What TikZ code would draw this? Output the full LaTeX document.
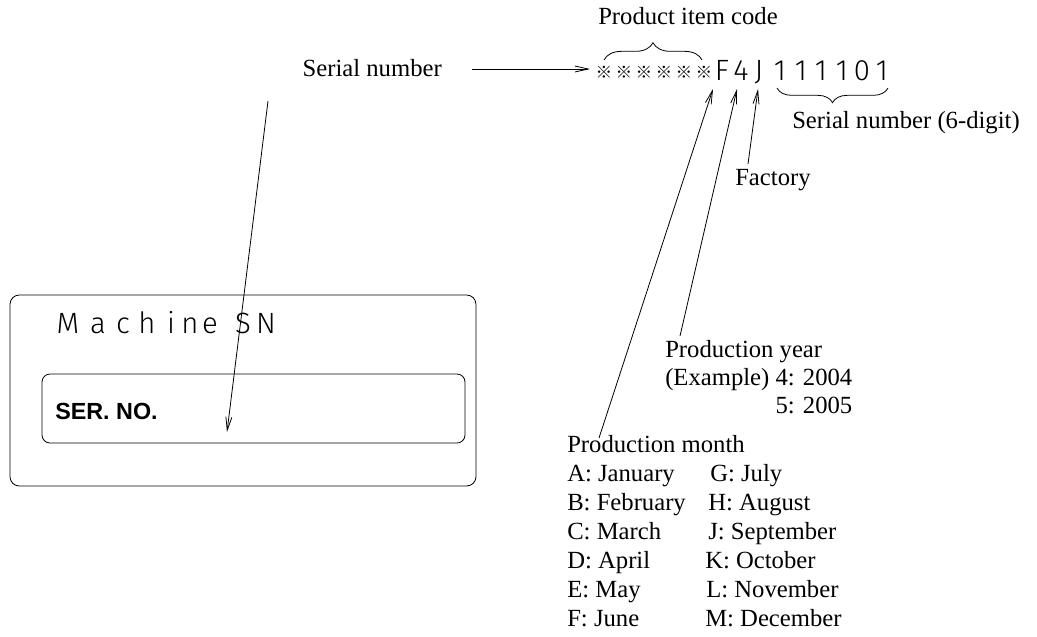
\documentclass[tikz,border=0pt]{standalone}
\usepackage{fontspec}
\setmainfont{Liberation Serif}
\setsansfont{Liberation Sans}
\newfontfamily\cadfont{Fira Sans Light}
\newfontfamily\markfont{Noto Sans CJK JP}
\usetikzlibrary{arrows.meta,decorations.pathreplacing,positioning}

\tikzset{
    lbl/.style={font=\fontsize{18.5}{16.5}\selectfont, inner sep=0pt, anchor=base west},
    codechar/.style={font=\cadfont\fontsize{22}{22}\selectfont, inner sep=0pt, anchor=base},
    codemark/.style={font=\markfont\fontsize{12.5}{12.5}\selectfont, inner sep=0pt, anchor=base},
    pointer/.style={-{Straight Barb[length=10pt,width=4.5pt]}, line width=0.6pt},
    cbrace/.style={decorate, line width=0.6pt, decoration={brace, amplitude=#1}},
    plate/.style={draw, line width=0.6pt, rounded corners=7pt, inner sep=0pt}
}

\begin{document}
\begin{tikzpicture}[x=0.75pt, y=-0.75pt]

    \useasboundingbox (0,0) rectangle (1037,636);

    % Name plate
    \node[plate, minimum width=466*0.75pt, minimum height=191*0.75pt] (outer) at (243,390.5) {};
    \node[plate, rounded corners=6pt, minimum width=423*0.75pt, minimum height=69*0.75pt] (inner) at (253.5,408.5) {};

    \foreach \ch/\x [count=\i] in {M/68, a/98, c/123, h/147, i/171, n/190, e/210, S/243, N/266}
        \node[codechar] (ms\i) at (\x,333) {\ch};

    \node[anchor=west, inner sep=0pt, font=\sffamily\bfseries\fontsize{17.5}{17.5}\selectfont] (serno) at (55,411) {SER. NO.};

    % Code string
    \foreach \x [count=\i] in {604,624,644,664,684,704}
        \node[codemark] (m\i) at (\x,78) {※};

    \foreach \ch/\x [count=\i] in {F/722, 4/741, J/759, 1/780, 1/801, 1/821, 1/842, 0/862, 1/882}
        \node[codechar] (c\i) at (\x,80) {\ch};

    % Braces
    \draw[cbrace=13pt] (604,60) -- (702,60);
    \draw[cbrace=11pt] (888,88) -- (777,88);

    % Labels
    \node[lbl] (item) at (598,24) {Product item code};
    \node[lbl, anchor=base east] (serial) at (442,76) {Serial number};
    \node[lbl] (digits) at (792,128) {Serial number (6-digit)};
    \node[lbl] (factory) at (735,185) {Factory};

    \node[lbl] (year) at (665,357) {Production year};
    \node[lbl] (yex) at (665,385) {(Example) 4: 2004};
    \node[lbl, anchor=base east] (yex2) at (yex.east |- 0,413) {5: 2005};

    \node[lbl] (month) at (567,452) {Production month};
    \foreach \txt/\y [count=\i] in {A: January/481, B: February/510, C: March/539,
                                     D: April/568, E: May/597, F: June/626}
        \node[lbl] (mA\i) at (567,\y) {\txt};
    \foreach \txt/\x/\y [count=\i] in {G: July/710/481, H: August/708/510, J: September/708/539,
                                        K: October/705/568, L: November/706/597, M: December/705/626}
        \node[lbl] (mB\i) at (\x,\y) {\txt};

    % Arrow ends
    \coordinate (snfrom) at (472,69);
    \coordinate (snto) at (590,69);
    \coordinate (snfoot) at (268,101);
    \coordinate (sntip) at (227,432);
    \coordinate (mfoot) at (599,438);
    \coordinate (yfoot) at (680,336);
    \coordinate (ffoot) at (748,164);
    \coordinate (tipF) at (713,89);
    \coordinate (tip4) at (737,89);
    \coordinate (tipJ) at (758,89);

    % Pointers
    \draw[pointer] (snfrom) -- (snto);
    \draw[pointer] (snfoot) -- (sntip);
    \draw[pointer] (mfoot) -- (tipF);
    \draw[pointer] (yfoot) -- (tip4);
    \draw[pointer] (ffoot) -- (tipJ);

\end{tikzpicture}
\end{document}
